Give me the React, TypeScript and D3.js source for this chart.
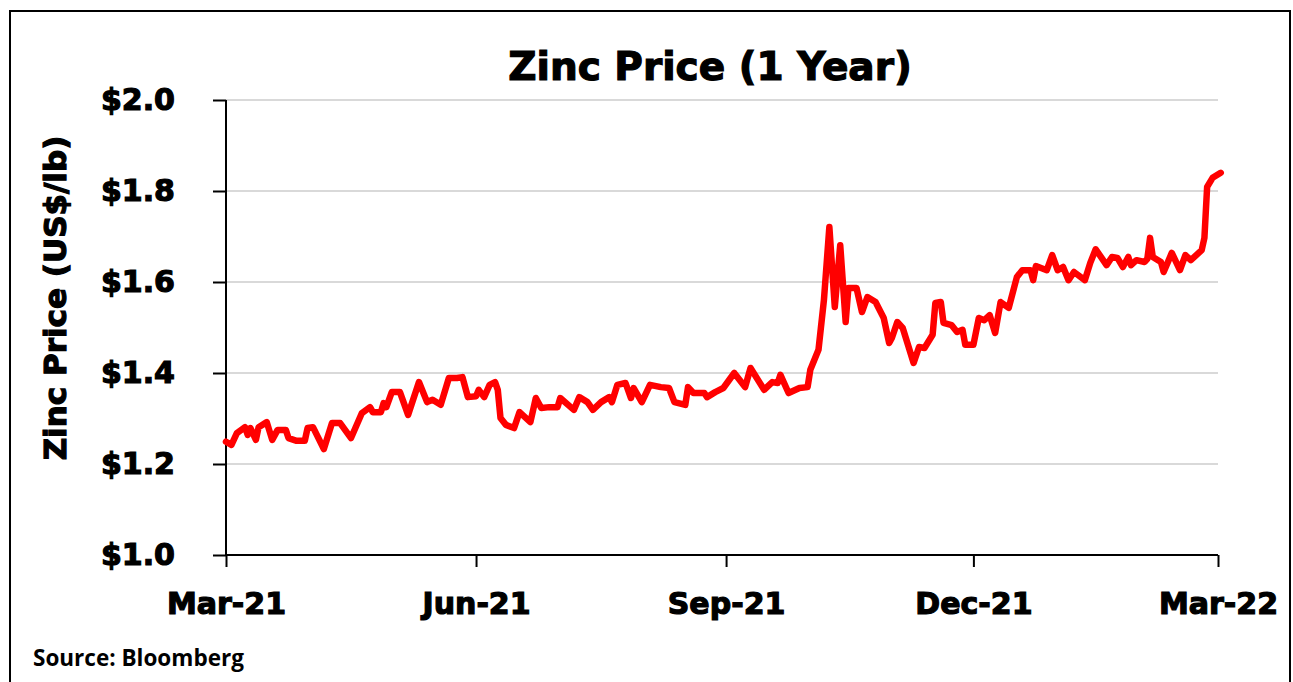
import { axisBottom, axisLeft, line, scaleLinear, scaleTime, select, timeParse } from "d3";
import React, { useEffect, useRef } from "react";

const dates = [
  "2021-03-01", "2021-03-03", "2021-03-05", "2021-03-08", "2021-03-09", "2021-03-10", "2021-03-12", "2021-03-13",
  "2021-03-16", "2021-03-18", "2021-03-20", "2021-03-23", "2021-03-24", "2021-03-27", "2021-03-30", "2021-03-31",
  "2021-04-02", "2021-04-06", "2021-04-09", "2021-04-12", "2021-04-16", "2021-04-20", "2021-04-23", "2021-04-24",
  "2021-04-27", "2021-04-28", "2021-04-29", "2021-05-01", "2021-05-04", "2021-05-07", "2021-05-11", "2021-05-14",
  "2021-05-16", "2021-05-19", "2021-05-22", "2021-05-25", "2021-05-27", "2021-05-29", "2021-06-01", "2021-06-02",
  "2021-06-04", "2021-06-06", "2021-06-08", "2021-06-09", "2021-06-10", "2021-06-12", "2021-06-15", "2021-06-17",
  "2021-06-21", "2021-06-23", "2021-06-25", "2021-06-28", "2021-07-01", "2021-07-02", "2021-07-07", "2021-07-09",
  "2021-07-12", "2021-07-14", "2021-07-17", "2021-07-20", "2021-07-21", "2021-07-23", "2021-07-26", "2021-07-28",
  "2021-07-29", "2021-08-01", "2021-08-04", "2021-08-08", "2021-08-11", "2021-08-13", "2021-08-17", "2021-08-18",
  "2021-08-20", "2021-08-24", "2021-08-25", "2021-08-28", "2021-08-31", "2021-09-04", "2021-09-08", "2021-09-10",
  "2021-09-15", "2021-09-18", "2021-09-20", "2021-09-21", "2021-09-24", "2021-09-28", "2021-10-01", "2021-10-02",
  "2021-10-05", "2021-10-07", "2021-10-09", "2021-10-11", "2021-10-13", "2021-10-15", "2021-10-16", "2021-10-19",
  "2021-10-21", "2021-10-23", "2021-10-26", "2021-10-29", "2021-10-31", "2021-11-01", "2021-11-03", "2021-11-05",
  "2021-11-09", "2021-11-11", "2021-11-13", "2021-11-16", "2021-11-17", "2021-11-19", "2021-11-20", "2021-11-23",
  "2021-11-25", "2021-11-27", "2021-11-28", "2021-12-01", "2021-12-03", "2021-12-05", "2021-12-07", "2021-12-09",
  "2021-12-11", "2021-12-14", "2021-12-17", "2021-12-19", "2021-12-22", "2021-12-23", "2021-12-24", "2021-12-28",
  "2021-12-30", "2022-01-01", "2022-01-03", "2022-01-05", "2022-01-07", "2022-01-11", "2022-01-13", "2022-01-15",
  "2022-01-19", "2022-01-21", "2022-01-23", "2022-01-25", "2022-01-27", "2022-01-28", "2022-01-30", "2022-02-02",
  "2022-02-03", "2022-02-04", "2022-02-05", "2022-02-08", "2022-02-09", "2022-02-12", "2022-02-15", "2022-02-17",
  "2022-02-19", "2022-02-23", "2022-02-24", "2022-02-25", "2022-02-27", "2022-03-02",
];

const prices = [
  1.249, 1.242, 1.268, 1.281, 1.264, 1.279, 1.253, 1.281,
  1.292, 1.253, 1.275, 1.275, 1.257, 1.251, 1.251, 1.279,
  1.281, 1.233, 1.29, 1.29, 1.257, 1.312, 1.325, 1.314,
  1.314, 1.334, 1.325, 1.358, 1.358, 1.308, 1.38, 1.336,
  1.341, 1.33, 1.389, 1.389, 1.391, 1.347, 1.349, 1.363,
  1.347, 1.374, 1.38, 1.363, 1.301, 1.286, 1.279, 1.314,
  1.292, 1.345, 1.323, 1.325, 1.325, 1.345, 1.319, 1.347,
  1.336, 1.319, 1.336, 1.347, 1.336, 1.374, 1.378, 1.345,
  1.367, 1.336, 1.374, 1.369, 1.367, 1.336, 1.33, 1.369,
  1.356, 1.356, 1.347, 1.358, 1.367, 1.4, 1.369, 1.411,
  1.363, 1.38, 1.378, 1.396, 1.356, 1.367, 1.369, 1.407,
  1.451, 1.56, 1.721, 1.545, 1.681, 1.512, 1.587, 1.587,
  1.534, 1.567, 1.556, 1.521, 1.466, 1.477, 1.512, 1.499,
  1.422, 1.457, 1.455, 1.484, 1.554, 1.556, 1.51, 1.505,
  1.49, 1.495, 1.462, 1.462, 1.521, 1.516, 1.527, 1.488,
  1.556, 1.543, 1.611, 1.626, 1.626, 1.604, 1.635, 1.626,
  1.659, 1.626, 1.633, 1.604, 1.622, 1.604, 1.642, 1.672,
  1.637, 1.655, 1.653, 1.633, 1.655, 1.637, 1.648, 1.644,
  1.651, 1.697, 1.655, 1.644, 1.622, 1.664, 1.626, 1.659,
  1.648, 1.67, 1.697, 1.809, 1.829, 1.84,
];

const yTicks = [1.0, 1.2, 1.4, 1.6, 1.8, 2.0];
const xTickDates = ["2021-03-01", "2021-06-01", "2021-09-01", "2021-12-01", "2022-03-01"];
const xTickLabels = ["Mar-21", "Jun-21", "Sep-21", "Dec-21", "Mar-22"];

const W = 1293;
const H = 682;
const heavy = "'DejaVu Sans', sans-serif";

function ZincChart() {
  const svgRef = useRef<SVGSVGElement>(null);

  useEffect(() => {
    const svg = select(svgRef.current);
    const parse = timeParse("%Y-%m-%d");

    const xScale = scaleTime()
      .domain([parse(xTickDates[0]), parse(xTickDates[xTickDates.length - 1])])
      .range([226, 1218]);
    const yScale = scaleLinear().domain([1.0, 2.0]).range([555, 100]);

    // grid
    svg
      .select(".grid")
      .selectAll("line")
      .data(yTicks.filter((d) => d > 1.0))
      .join("line")
      .attr("x1", 226)
      .attr("x2", 1218)
      .attr("y1", (d) => yScale(d))
      .attr("y2", (d) => yScale(d))
      .attr("stroke", "#d9d9d9")
      .attr("stroke-width", 2);

    const yAxis = axisLeft(yScale)
      .tickValues(yTicks)
      .tickSize(13)
      .tickPadding(38)
      .tickFormat((d) => `$${(+d).toFixed(1)}`);

    const gy = svg.select(".y-axis").attr("transform", "translate(226,0)").call(yAxis);
    gy.select(".domain").attr("stroke", "#000").attr("stroke-width", 2).attr("d", "M0,100V555");
    gy.selectAll(".tick line").attr("stroke", "#000").attr("stroke-width", 2);
    gy.selectAll(".tick text")
      .attr("font-family", heavy)
      .attr("font-weight", "bold")
      .attr("font-size", 30)
      .attr("fill", "#000")
      .attr("stroke", "#000")
      .attr("stroke-width", 1.2);

    const xAxis = axisBottom(xScale)
      .tickValues(xTickDates.map((d) => parse(d)))
      .tickSize(12)
      .tickPadding(26)
      .tickFormat((d, i) => xTickLabels[i]);

    const gx = svg.select(".x-axis").attr("transform", "translate(0,555)").call(xAxis);
    gx.select(".domain").attr("stroke", "#000").attr("stroke-width", 2).attr("d", "M226,0H1218");
    gx.selectAll(".tick line").attr("stroke", "#000").attr("stroke-width", 2);
    gx.selectAll(".tick text")
      .attr("font-family", heavy)
      .attr("font-weight", "bold")
      .attr("font-size", 30)
      .attr("fill", "#000")
      .attr("stroke", "#000")
      .attr("stroke-width", 1.2);

    const series = dates.map((d, i) => ({ date: parse(d), value: prices[i] }));
    const lineGenerator = line<{ date: Date; value: number }>()
      .x((d) => xScale(d.date))
      .y((d) => yScale(d.value));

    svg
      .select(".content")
      .selectAll("path")
      .data([series])
      .join("path")
      .attr("fill", "none")
      .attr("stroke", "#ff0000")
      .attr("stroke-width", 6.5)
      .attr("stroke-linejoin", "round")
      .attr("stroke-linecap", "round")
      .attr("d", lineGenerator);
  }, []);

  return (
    <svg
      ref={svgRef}
      width={W}
      height={H}
      style={{ position: "absolute", left: 0, top: 0, background: "#fff" }}
    >
      <rect x={10} y={11} width={1280} height={H} fill="none" stroke="#000" strokeWidth={2} />
      <text
        x={710}
        y={80}
        textAnchor="middle"
        fontFamily={heavy}
        fontWeight="bold"
        fontSize={39}
        stroke="#000"
        strokeWidth={1.2}
      >
        Zinc Price (1 Year)
      </text>
      <text
        transform="translate(66,298) rotate(-90)"
        textAnchor="middle"
        fontFamily={heavy}
        fontWeight="bold"
        fontSize={31}
        stroke="#000"
        strokeWidth={1.2}
      >
        Zinc Price (US$/lb)
      </text>
      <g className="grid" />
      <g className="x-axis" />
      <g className="y-axis" />
      <g className="content" />
      <text x={33} y={666} fontFamily="'Open Sans', sans-serif" fontWeight="bold" fontSize={22.5}>
        Source: Bloomberg
      </text>
    </svg>
  );
}

export default function App() {
  return <ZincChart />;
}
